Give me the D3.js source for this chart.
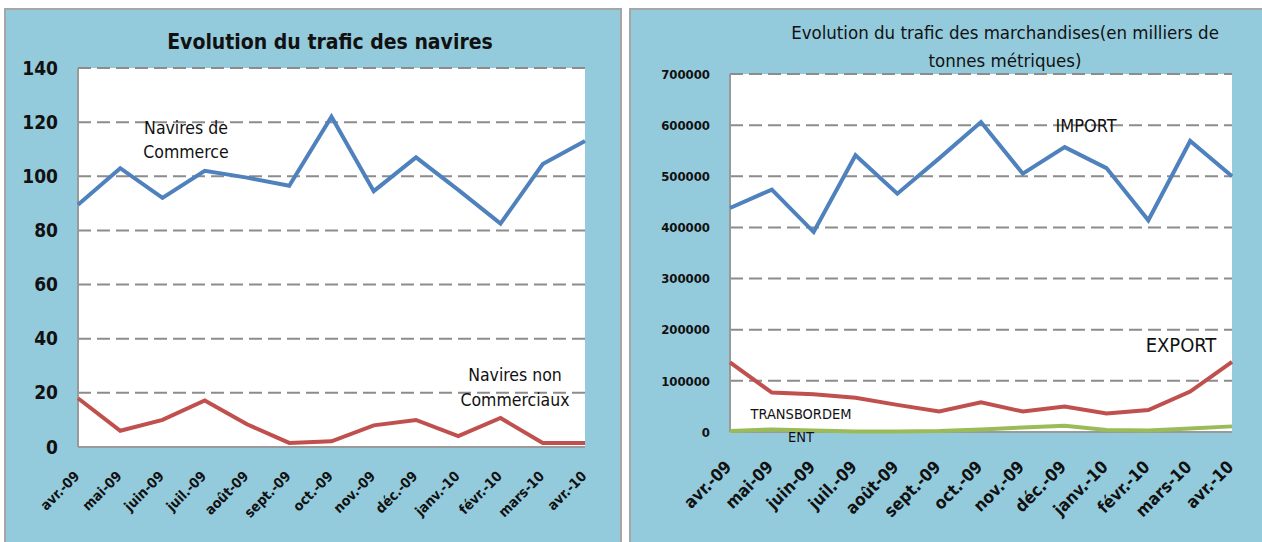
<!DOCTYPE html>
<html>
<head>
<meta charset="utf-8">
<script src="https://cdn.jsdelivr.net/npm/d3@7"></script>
<style>
  body { margin: 0; background: #fff; }
  svg text { font-family: 'Liberation Sans Narrow', 'DejaVu Sans Condensed', 'Open Sans', sans-serif; fill: #111; }
</style>
</head>
<body>
<svg id="canvas" width="1262" height="542"></svg>
<script>
const MONTHS = ['avr.-09', 'mai-09', 'juin-09', 'juil.-09', 'août-09', 'sept.-09', 'oct.-09',
  'nov.-09', 'déc.-09', 'janv.-10', 'févr.-10', 'mars-10', 'avr.-10'];

// navires
const NAVIRES_COMMERCE = [89.5, 103, 92, 102, 99.5, 96.5, 122, 94.5, 107, 95, 82.5, 104.5, 113];
const NAVIRES_NON_COMM = [18, 6, 10, 17.2, 8.4, 1.5, 2.1, 8, 10, 4, 10.7, 1.5, 1.5];
const NAVIRES_TICKS = [0, 20, 40, 60, 80, 100, 120, 140];

// marchandises
const IMPORT = [438000, 474000, 391000, 541000, 466000, 535000, 606000, 505000, 557000, 516000, 414000, 569000, 500000];
const EXPORT = [136000, 77000, 74000, 67000, 53000, 40000, 58000, 40000, 50000, 36000, 43000, 79000, 137000];
const TRANSBORDEMENT = [2000, 5000, 3000, 1000, 1000, 2000, 5000, 9000, 12000, 4000, 3000, 7000, 11000];
const MARCH_TICKS = [0, 100000, 200000, 300000, 400000, 500000, 600000, 700000];

const BLUE = '#4f81bd', RED = '#c0504d', GREEN = '#9bbb59', BG = '#94cbdc';

const svg = d3.select('#canvas');

function panel(opt) {
  // background of the chart area
  svg.append('rect')
    .attr('x', opt.bx).attr('y', opt.by)
    .attr('width', opt.bw).attr('height', opt.bh)
    .attr('fill', BG).attr('stroke', '#a6a6a6').attr('stroke-width', 2);

  let x = d3.scalePoint().domain(MONTHS).range([opt.x0, opt.x1]);
  let y = d3.scaleLinear().domain([0, opt.ymax]).range([opt.y0, opt.y1]);

  svg.append('rect')
    .attr('x', opt.x0).attr('y', opt.y1)
    .attr('width', opt.x1 - opt.x0).attr('height', opt.y0 - opt.y1)
    .attr('fill', '#fff');

  // gridlines
  svg.append('g').selectAll('line')
    .data(opt.ticks.filter(d => d > 0))
    .join('line')
    .attr('x1', opt.x0).attr('x2', opt.x1)
    .attr('y1', d => y(d)).attr('y2', d => y(d))
    .attr('stroke', '#8c8c8c').attr('stroke-width', 2)
    .attr('stroke-dasharray', '13,6');

  // axis lines
  svg.append('line')
    .attr('x1', opt.x0).attr('x2', opt.x0).attr('y1', opt.y1).attr('y2', opt.y0)
    .attr('stroke', '#9a9a9a').attr('stroke-width', 2);
  svg.append('line')
    .attr('x1', opt.x0).attr('x2', opt.x1).attr('y1', opt.y0).attr('y2', opt.y0)
    .attr('stroke', '#9a9a9a').attr('stroke-width', 2);

  let yAxis = d3.axisLeft(y).tickValues(opt.ticks).tickSize(0).tickPadding(opt.ypad).tickFormat(d3.format('d'));
  let gy = svg.append('g').attr('transform', `translate(${opt.x0},0)`).call(yAxis);
  gy.select('.domain').remove();
  gy.selectAll('text')
    .style('font-size', opt.yfont + 'px').style('font-weight', 'bold')
    .style('font-family', "'Liberation Sans Narrow', 'DejaVu Sans Condensed', sans-serif")
    .attr('fill', '#111');

  let xAxis = d3.axisBottom(x).tickSize(0).tickPadding(0);
  let gx = svg.append('g').attr('transform', `translate(0,${opt.y0})`).call(xAxis);
  gx.select('.domain').remove();
  gx.selectAll('text')
    .attr('y', 0).attr('dy', 0)
    .attr('text-anchor', 'end')
    .attr('transform', `translate(${opt.xdx},${opt.xdy}) rotate(-45)`)
    .style('font-size', opt.xfont + 'px').style('font-weight', 'bold')
    .style('font-family', "'Liberation Sans Narrow', 'DejaVu Sans Condensed', sans-serif")
    .attr('fill', '#111');

  let line = d3.line().x((d, i) => x(MONTHS[i])).y(d => y(d));
  opt.series.forEach(s => {
    svg.append('path')
      .datum(s.values)
      .attr('d', line)
      .attr('fill', 'none')
      .attr('stroke', s.color)
      .attr('stroke-width', 4)
      .attr('stroke-linejoin', 'miter');
  });

  opt.labels.forEach(l => {
    let t = svg.append('text')
      .attr('x', l.x).attr('y', l.y)
      .attr('text-anchor', 'middle')
      .style('font-size', l.size + 'px')
      .style('font-weight', l.bold ? 'bold' : 'normal');
    l.lines.forEach((s, i) => {
      t.append('tspan').attr('x', l.x).attr('dy', i === 0 ? 0 : l.lh).text(s);
    });
  });
}

panel({
  bx: 5, by: 9, bw: 616, bh: 560,
  x0: 78, x1: 585, y0: 447, y1: 68,
  ymax: 140, ticks: NAVIRES_TICKS, ypad: 20, yfont: 19,
  xfont: 14, xdx: 2, xdy: 30,
  series: [
    { values: NAVIRES_COMMERCE, color: BLUE },
    { values: NAVIRES_NON_COMM, color: RED }
  ],
  labels: [
    { x: 330, y: 49, size: 21, bold: true, lines: ['Evolution du trafic des navires'] },
    { x: 186, y: 134, size: 17.5, lh: 24, lines: ['Navires de', 'Commerce'] },
    { x: 515, y: 381, size: 17.5, lh: 25, lines: ['Navires non', 'Commerciaux'] }
  ]
});

panel({
  bx: 630, by: 9, bw: 640, bh: 560,
  x0: 730, x1: 1232, y0: 432, y1: 74,
  ymax: 700000, ticks: MARCH_TICKS, ypad: 20, yfont: 13,
  xfont: 17, xdx: 2, xdy: 36,
  series: [
    { values: IMPORT, color: BLUE },
    { values: EXPORT, color: RED },
    { values: TRANSBORDEMENT, color: GREEN }
  ],
  labels: [
    { x: 1005, y: 39, size: 18.5, lh: 28, lines: ['Evolution du trafic des marchandises(en milliers de', 'tonnes métriques)'] },
    { x: 1086, y: 132, size: 18, lines: ['IMPORT'] },
    { x: 1181, y: 352, size: 20, lines: ['EXPORT'] },
    { x: 801, y: 419, size: 14.5, lh: 23, lines: ['TRANSBORDEM', 'ENT'] }
  ]
});
</script>
</body>
</html>
